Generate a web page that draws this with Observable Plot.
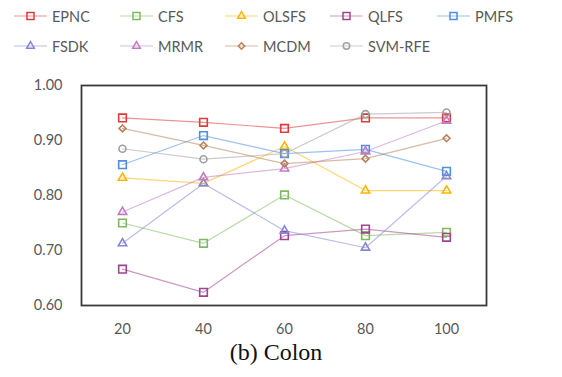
<!DOCTYPE html>
<html>
<head>
<meta charset="utf-8">
<script src="https://cdn.jsdelivr.net/npm/d3@7"></script>
<script src="https://cdn.jsdelivr.net/npm/@observablehq/plot@0.6"></script>
<style>
  html, body { margin: 0; padding: 0; background: #fff; }
  #wrap { position: relative; width: 562px; height: 377px; overflow: hidden; font-family: Lato, "Open Sans", sans-serif; }
  .leg { position: absolute; display: flex; align-items: center; font-size: 14.5px; color: #595959; white-space: nowrap; }
  .leg svg { display: block; margin-right: 4px; }
  #chart { position: absolute; left: 0; top: 62px; }
  #caption { position: absolute; left: 0; width: 552px; top: 339px; text-align: center; font-family: "Liberation Serif", serif; font-size: 24px; color: #111; }
</style>
</head>
<body>
<div id="wrap">
  <div id="legend"></div>
  <div id="chart"></div>
  <div id="caption">(b) Colon</div>
</div>
<script>
// ---- data ----
const featureCounts = [20, 40, 60, 80, 100];
const seriesNames = ["EPNC", "CFS", "OLSFS", "QLFS", "PMFS", "FSDK", "MRMR", "MCDM", "SVM-RFE"];
const EPNC   = [0.941, 0.933, 0.922, 0.941, 0.941];
const CFS    = [0.750, 0.713, 0.801, 0.727, 0.733];
const OLSFS  = [0.832, 0.822, 0.889, 0.809, 0.809];
const QLFS   = [0.666, 0.624, 0.727, 0.739, 0.724];
const PMFS   = [0.856, 0.909, 0.876, 0.884, 0.844];
const FSDK   = [0.713, 0.822, 0.736, 0.705, 0.835];
const MRMR   = [0.770, 0.833, 0.849, 0.880, 0.936];
const MCDM   = [0.922, 0.891, 0.858, 0.867, 0.904];
const SVMRFE = [0.885, 0.866, 0.876, 0.948, 0.951];
const yTicks = [0.60, 0.70, 0.80, 0.90, 1.00];

// ---- styles ----
const seriesValues = [EPNC, CFS, OLSFS, QLFS, PMFS, FSDK, MRMR, MCDM, SVMRFE];
const colors = ["#e03a3a", "#7dbb5e", "#ffb400", "#a04590", "#4f8ee0", "#8585d5", "#c27bc2", "#b9825a", "#a0a0a0"];
const symbols = ["square", "square", "triangle", "square", "square", "triangle", "triangle", "diamond2", "circle"];
const radius = {square: 4.3, triangle: 3.1, diamond2: 3.1, circle: 3.5};

const rows = [];
seriesNames.forEach((s, i) => {
  featureCounts.forEach((x, j) => rows.push({series: s, x, y: seriesValues[i][j]}));
});

// ---- legend ----
const legend = document.getElementById("legend");
const legX = [14, 120, 225, 330, 437];
const legY = [16, 46];
seriesNames.forEach((s, i) => {
  const div = document.createElement("div");
  div.className = "leg";
  div.style.left = legX[i % 5] + "px";
  div.style.top = (legY[Math.floor(i / 5)] - 10) + "px";
  div.style.height = "20px";
  const sym = d3.symbol().type({
    square: d3.symbolSquare, triangle: d3.symbolTriangle, diamond2: d3.symbolDiamond2, circle: d3.symbolCircle
  }[symbols[i]]).size(Math.PI * radius[symbols[i]] ** 2 * 0.85)();
  div.innerHTML = `<svg width="34" height="20"><line x1="0" x2="33" y1="10" y2="10" stroke="${colors[i]}" stroke-opacity="0.55" stroke-width="1.2"/>` +
    `<path d="${sym}" transform="translate(16.5,10)" fill="none" stroke="${colors[i]}" stroke-width="1.5"/></svg><span>${s}</span>`;
  legend.appendChild(div);
});

// ---- chart ----
const dotMarks = seriesNames.map((s, i) =>
  Plot.dot(rows.filter(d => d.series === s), {
    x: "x", y: "y", symbol: () => symbols[i], r: radius[symbols[i]],
    stroke: colors[i], fill: "none", strokeWidth: 1.6
  })
);

const chart = Plot.plot({
  width: 562,
  height: 280,
  marginLeft: 81,
  marginRight: 76,
  marginTop: 23,
  marginBottom: 37,
  style: {color: "#595959", fontFamily: "Lato, sans-serif", fontSize: "14.5px", background: "white"},
  x: {type: "point", domain: featureCounts, padding: 0.5},
  y: {domain: [0.6, 1.0]},
  symbol: {type: "identity"},
  marks: [
    Plot.axisX({tickSize: 0, tickPadding: 18, fontSize: 14.5, label: null}),
    Plot.axisY({ticks: yTicks, tickSize: 0, tickPadding: 19, fontSize: 14.5, label: null, tickFormat: d3.format(".2f")}),
    Plot.line(rows, {x: "x", y: "y", z: "series", stroke: d => colors[seriesNames.indexOf(d.series)], strokeWidth: 1.2, strokeOpacity: 0.55}),
    ...dotMarks,
    Plot.frame({stroke: "#3a3a3a", strokeWidth: 1.8})
  ]
});
document.getElementById("chart").appendChild(chart);
</script>
</body>
</html>
